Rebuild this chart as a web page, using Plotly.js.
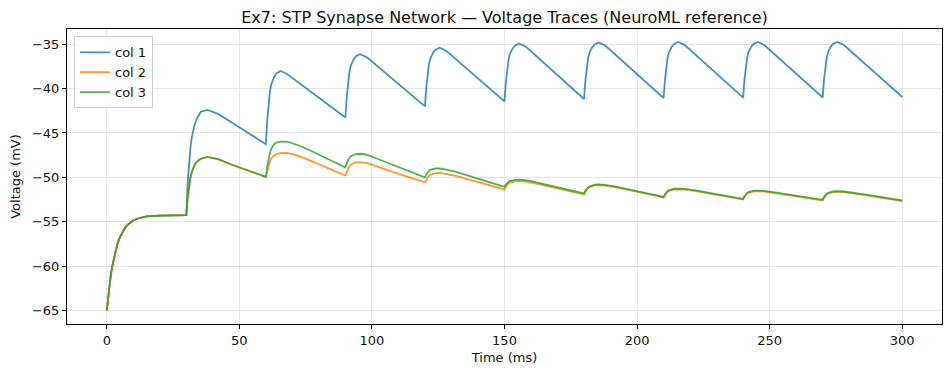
<!DOCTYPE html>
<html>
<head>
<meta charset="utf-8">
<script src="https://cdn.plot.ly/plotly-3.0.1.min.js"></script>
<style>html,body{margin:0;padding:0;background:#fff;}#chart{width:950px;height:374px;}</style>
</head>
<body>
<div id="chart"></div>
<script>
// Time points (ms)
const time_ms = [
  0, 0.5, 1, 1.5, 2, 3, 4, 5, 6, 7, 8, 10, 12, 15, 20, 25,
  30, 30.5, 31, 31.5, 32, 33, 34, 35.5, 38, 42, 47, 52, 57,
  60, 60.5, 61, 61.5, 62, 63, 64, 65.5, 68, 72, 77, 82, 87,
  90, 90.5, 91, 91.5, 92, 93, 94, 95.5, 98, 102, 107, 112, 117,
  120, 120.5, 121, 121.5, 122, 123, 124, 125.5, 128, 132, 137, 142, 147,
  150, 150.5, 151, 151.5, 152, 153, 154, 155.5, 158, 162, 167, 172, 177,
  180, 180.5, 181, 181.5, 182, 183, 184, 185.5, 188, 192, 197, 202, 207,
  210, 210.5, 211, 211.5, 212, 213, 214, 215.5, 218, 222, 227, 232, 237,
  240, 240.5, 241, 241.5, 242, 243, 244, 245.5, 248, 252, 257, 262, 267,
  270, 270.5, 271, 271.5, 272, 273, 274, 275.5, 278, 282, 287, 292, 297,
  300
];

// Voltage traces (mV)
const col1 = [
  -65, -63.5, -62.2, -61.05, -60.1, -58.6, -57.5, -56.7, -56.1, -55.65, -55.3, -54.85, -54.6, -54.4, -54.3, -54.27,
  -54.25, -50.7, -48.3, -46.8, -45.6, -44.2, -43.35, -42.6, -42.4, -42.85, -43.8, -44.75, -45.7,
  -46.26, -43.62, -41.63, -40.4, -39.57, -38.74, -38.29, -38.02, -38.35, -39.24, -40.35, -41.46, -42.58,
  -43.25, -40.96, -39.25, -38.17, -37.46, -36.74, -36.35, -36.12, -36.45, -37.46, -38.72, -39.98, -41.24,
  -42.0, -39.89, -38.3, -37.31, -36.65, -35.99, -35.63, -35.4, -35.75, -36.78, -38.08, -39.37, -40.66,
  -41.44, -39.35, -37.79, -36.81, -36.16, -35.51, -35.15, -34.92, -35.27, -36.34, -37.68, -39.02, -40.37,
  -41.17, -39.13, -37.61, -36.65, -36.02, -35.38, -35.03, -34.81, -35.16, -36.23, -37.57, -38.91, -40.25,
  -41.06, -39.04, -37.53, -36.58, -35.95, -35.32, -34.97, -34.75, -35.1, -36.18, -37.52, -38.87, -40.21,
  -41.02, -39.01, -37.5, -36.56, -35.93, -35.31, -34.96, -34.74, -35.09, -36.16, -37.5, -38.85, -40.19,
  -41.0, -39.0, -37.49, -36.56, -35.93, -35.3, -34.96, -34.74, -35.09, -36.16, -37.49, -38.82, -40.15,
  -40.95
];

const col2 = [
  -65, -63.5, -62.2, -61.05, -60.1, -58.6, -57.5, -56.7, -56.1, -55.65, -55.3, -54.85, -54.6, -54.4, -54.3, -54.27,
  -54.25, -52.3, -51.0, -50.1, -49.47, -48.68, -48.22, -47.9, -47.7, -47.95, -48.55, -49.1, -49.65,
  -49.95, -49.35, -48.7, -48.25, -47.9, -47.55, -47.38, -47.26, -47.23, -47.55, -48.15, -48.78, -49.4,
  -49.8, -49.35, -49.0, -48.75, -48.57, -48.4, -48.32, -48.29, -48.38, -48.78, -49.3, -49.8, -50.28,
  -50.55, -50.25, -50.0, -49.82, -49.7, -49.58, -49.52, -49.5, -49.6, -49.85, -50.28, -50.7, -51.08,
  -51.35, -51.05, -50.82, -50.68, -50.58, -50.48, -50.44, -50.43, -50.48, -50.7, -51.04, -51.38, -51.72,
  -51.92, -51.6, -51.37, -51.22, -51.1, -50.98, -50.91, -50.88, -50.93, -51.13, -51.43, -51.73, -52.06,
  -52.3, -52.0, -51.78, -51.63, -51.53, -51.42, -51.36, -51.34, -51.38, -51.55, -51.81, -52.08, -52.34,
  -52.5, -52.2, -51.98, -51.84, -51.74, -51.64, -51.58, -51.56, -51.6, -51.76, -51.98, -52.21, -52.44,
  -52.6, -52.3, -52.08, -51.93, -51.82, -51.71, -51.65, -51.63, -51.67, -51.83, -52.05, -52.28, -52.51,
  -52.66
];

const col3 = [
  -65, -63.5, -62.2, -61.05, -60.1, -58.6, -57.5, -56.7, -56.1, -55.65, -55.3, -54.85, -54.6, -54.4, -54.3, -54.27,
  -54.25, -52.3, -51.0, -50.1, -49.47, -48.68, -48.22, -47.9, -47.7, -47.95, -48.55, -49.1, -49.65,
  -49.95, -48.85, -47.9, -47.3, -46.8, -46.3, -46.08, -45.97, -45.97, -46.35, -47.0, -47.7, -48.4,
  -48.88, -48.4, -48.05, -47.8, -47.62, -47.45, -47.37, -47.34, -47.45, -47.9, -48.5, -49.1, -49.68,
  -50.0, -49.7, -49.42, -49.25, -49.14, -49.04, -49.0, -49.0, -49.12, -49.4, -49.85, -50.28, -50.72,
  -51.07, -50.8, -50.62, -50.5, -50.42, -50.32, -50.27, -50.25, -50.32, -50.55, -50.88, -51.22, -51.58,
  -51.8, -51.5, -51.28, -51.13, -51.02, -50.9, -50.83, -50.8, -50.85, -51.05, -51.35, -51.65, -51.98,
  -52.2, -51.92, -51.7, -51.55, -51.45, -51.34, -51.28, -51.26, -51.3, -51.47, -51.73, -52.0, -52.26,
  -52.42, -52.12, -51.9, -51.76, -51.66, -51.56, -51.5, -51.48, -51.52, -51.68, -51.9, -52.13, -52.36,
  -52.52, -52.22, -52.0, -51.85, -51.74, -51.63, -51.57, -51.55, -51.59, -51.75, -51.97, -52.2, -52.43,
  -52.58
];

const seriesNames = ["col 1", "col 2", "col 3"];
const seriesColors = ["rgba(31,119,180,0.82)", "rgba(255,127,14,0.82)", "rgba(44,160,44,0.82)"];
const xTicks = [0, 50, 100, 150, 200, 250, 300];
const yTicks = [-65, -60, -55, -50, -45, -40, -35];

const ys = [col1, col2, col3];
const traces = ys.map((y, i) => ({
  x: time_ms, y: y, type: "scatter", mode: "lines", name: seriesNames[i],
  line: {color: seriesColors[i], width: 1.8}
}));

const axisCommon = {
  showline: true, mirror: true, linecolor: "#000", linewidth: 1,
  ticks: "outside", ticklen: 4, tickwidth: 1, tickcolor: "#000",
  showgrid: true, gridcolor: "#e5e5e5", gridwidth: 1, zeroline: false,
  tickfont: {family: "DejaVu Sans", size: 13, color: "#111"}
};

const layout = {
  width: 950, height: 374,
  margin: {l: 67, r: 8, t: 29, b: 50},
  paper_bgcolor: "#fff", plot_bgcolor: "#fff",
  font: {family: "DejaVu Sans", size: 13, color: "#111"},
  title: {text: "Ex7: STP Synapse Network — Voltage Traces (NeuroML reference)",
          font: {family: "DejaVu Sans", size: 16, color: "#111"},
          x: 0.5, xref: "paper", xanchor: "center", y: 1 - 17/374, yref: "container", yanchor: "middle"},
  xaxis: Object.assign({}, axisCommon, {
    range: [-15, 315], tickvals: xTicks, ticktext: xTicks.map(String),
    title: {text: "Time (ms)", font: {family: "DejaVu Sans", size: 13, color: "#111"}, standoff: 6}
  }),
  yaxis: Object.assign({}, axisCommon, {
    range: [-66.51, -33.29], tickvals: yTicks,
    title: {text: "Voltage (mV)", font: {family: "DejaVu Sans", size: 13, color: "#111"}, standoff: 8}
  }),
  showlegend: true,
  legend: {x: 0.008, y: 0.975, xanchor: "left", yanchor: "top",
           bgcolor: "rgba(255,255,255,0.85)", bordercolor: "#cccccc", borderwidth: 1,
           font: {family: "DejaVu Sans", size: 13, color: "#111"}, tracegroupgap: 0}
};

Plotly.newPlot("chart", traces, layout, {displayModeBar: false, responsive: false});
</script>
</body>
</html>
